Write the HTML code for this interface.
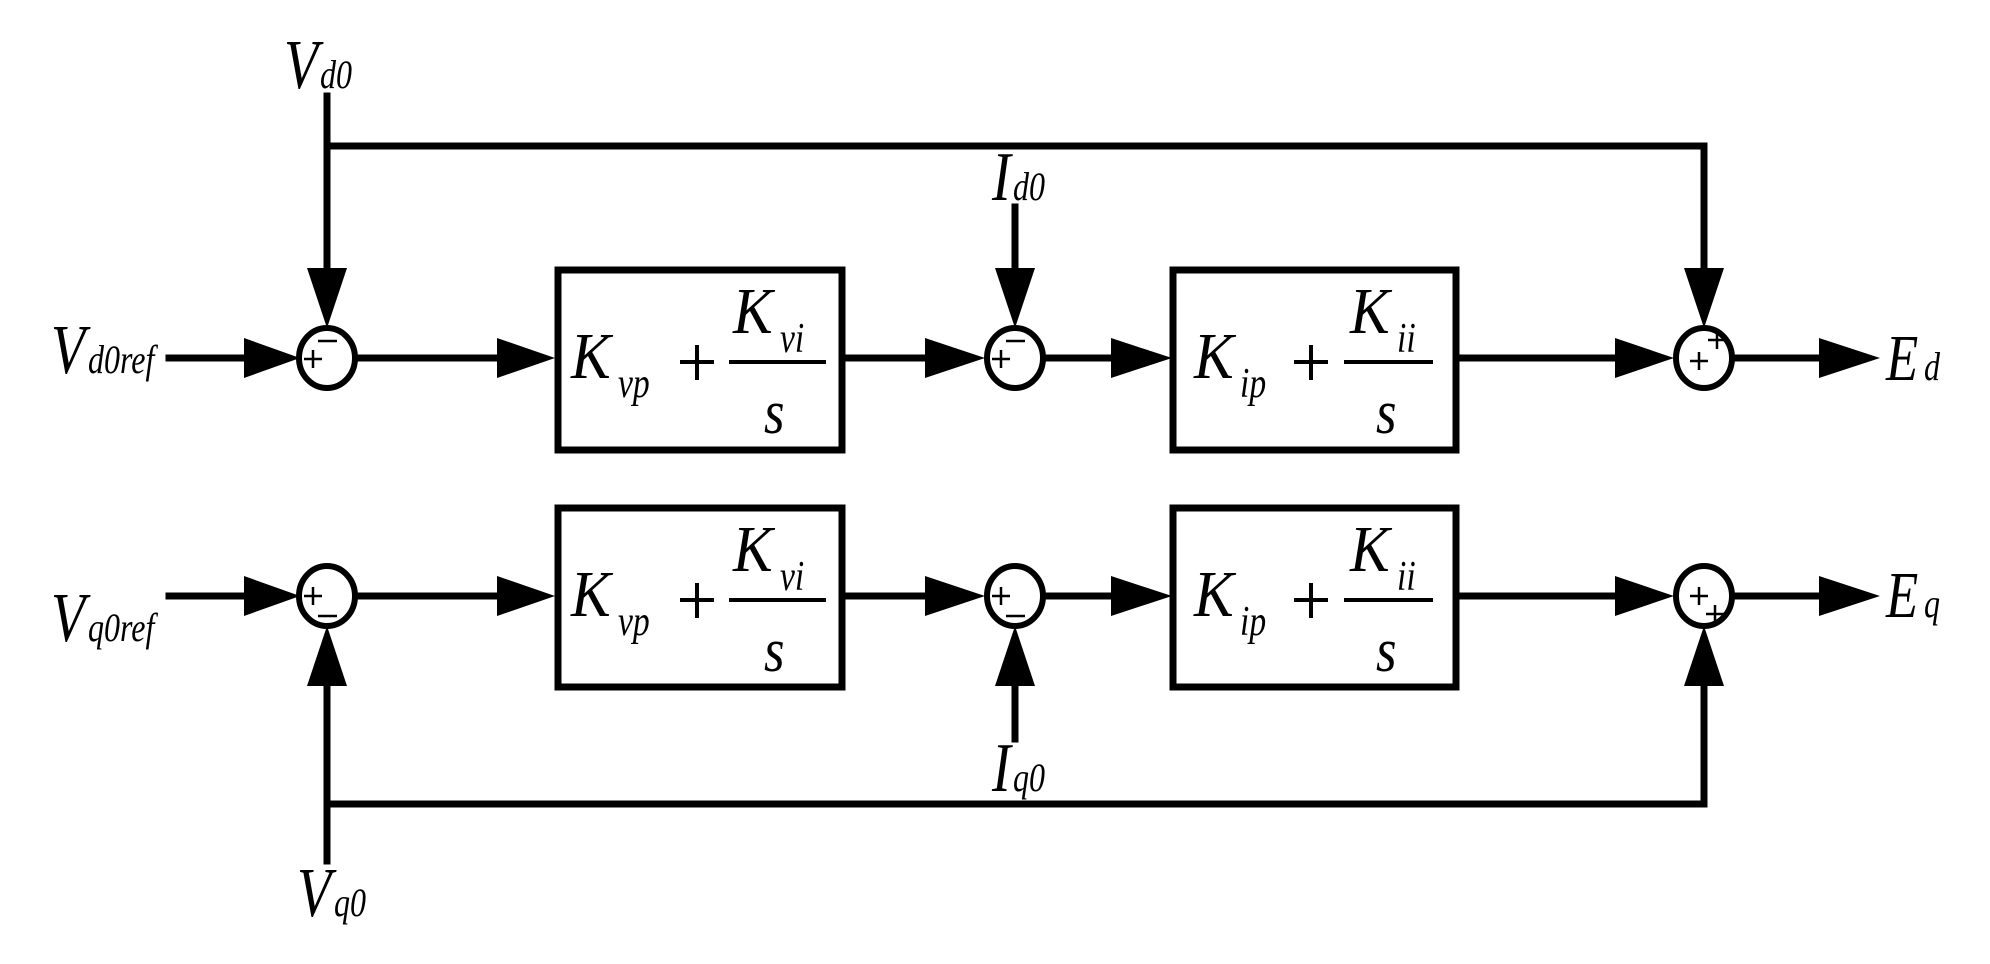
<!DOCTYPE html>
<html><head><meta charset="utf-8"><style>
html,body{margin:0;padding:0;background:#fff;}
svg{display:block;}
</style></head><body>
<svg width="1990" height="964" viewBox="0 0 1990 964" xmlns="http://www.w3.org/2000/svg">
<g stroke="#000" stroke-width="7" fill="none" stroke-linecap="square">
  <polyline points="327,96 327,280"/>
  <polyline points="327,146 1704,146 1704,280"/>
  <line x1="169" y1="358" x2="250" y2="358"/>
  <line x1="357" y1="358" x2="500" y2="358"/>
  <line x1="842" y1="358" x2="930" y2="358"/>
  <line x1="1015" y1="207" x2="1015" y2="280"/>
  <line x1="1045" y1="358" x2="1115" y2="358"/>
  <line x1="1456" y1="358" x2="1620" y2="358"/>
  <line x1="1734" y1="358" x2="1825" y2="358"/>
  <polyline points="327,861 327,680"/>
  <polyline points="327,804 1704,804 1704,680"/>
  <line x1="169" y1="596" x2="250" y2="596"/>
  <line x1="357" y1="596" x2="500" y2="596"/>
  <line x1="842" y1="596" x2="930" y2="596"/>
  <line x1="1015" y1="739" x2="1015" y2="680"/>
  <line x1="1045" y1="596" x2="1115" y2="596"/>
  <line x1="1456" y1="596" x2="1620" y2="596"/>
  <line x1="1734" y1="596" x2="1825" y2="596"/>
  <rect x="558" y="270" width="284" height="180"/>
  <rect x="1173" y="270" width="283" height="180"/>
  <rect x="558" y="508" width="284" height="179"/>
  <rect x="1173" y="508" width="283" height="179"/>
</g>
<g stroke="#000" stroke-width="6" fill="#fff">
  <ellipse cx="327" cy="358" rx="28" ry="30"/>
  <ellipse cx="1015" cy="358" rx="28" ry="30"/>
  <ellipse cx="1704" cy="358" rx="28" ry="30"/>
  <ellipse cx="327" cy="596" rx="28" ry="30"/>
  <ellipse cx="1015" cy="596" rx="28" ry="30"/>
  <ellipse cx="1704" cy="596" rx="28" ry="30"/>
</g>
<g fill="#000">
  <polygon points="244,338 300,358 244,378"/>
  <polygon points="497,338 555,358 497,378"/>
  <polygon points="925,338 985,358 925,378"/>
  <polygon points="1111,338 1172,358 1111,378"/>
  <polygon points="1615,338 1674,358 1615,378"/>
  <polygon points="1819,338 1880,358 1819,378"/>
  <polygon points="244,576 300,596 244,616"/>
  <polygon points="497,576 555,596 497,616"/>
  <polygon points="925,576 985,596 925,616"/>
  <polygon points="1111,576 1172,596 1111,616"/>
  <polygon points="1615,576 1674,596 1615,616"/>
  <polygon points="1819,576 1880,596 1819,616"/>
  <polygon points="307,268 347,268 327,328"/>
  <polygon points="995,268 1035,268 1015,328"/>
  <polygon points="1684,268 1724,268 1704,328"/>
  <polygon points="307,686 347,686 327,626"/>
  <polygon points="995,686 1035,686 1015,626"/>
  <polygon points="1684,686 1724,686 1704,626"/>
</g>
<g stroke="#000" stroke-width="2.5">
  <line x1="304" y1="359" x2="322" y2="359"/><line x1="313" y1="350" x2="313" y2="368"/>
  <line x1="318" y1="341" x2="337" y2="341"/>
  <line x1="992" y1="359" x2="1010" y2="359"/><line x1="1001" y1="350" x2="1001" y2="368"/>
  <line x1="1006" y1="341" x2="1025" y2="341"/>
  <line x1="1690" y1="361" x2="1708" y2="361"/><line x1="1699" y1="352" x2="1699" y2="370"/>
  <line x1="1708" y1="340" x2="1726" y2="340"/><line x1="1717" y1="331" x2="1717" y2="349"/>
  <line x1="304" y1="596" x2="322" y2="596"/><line x1="313" y1="587" x2="313" y2="605"/>
  <line x1="318" y1="616" x2="337" y2="616"/>
  <line x1="992" y1="596" x2="1010" y2="596"/><line x1="1001" y1="587" x2="1001" y2="605"/>
  <line x1="1006" y1="616" x2="1025" y2="616"/>
  <line x1="1690" y1="596" x2="1708" y2="596"/><line x1="1699" y1="587" x2="1699" y2="605"/>
  <line x1="1706" y1="614" x2="1724" y2="614"/><line x1="1715" y1="605" x2="1715" y2="623"/>
</g>
<g stroke="#000" stroke-width="4">
  <line x1="729" y1="362" x2="826" y2="362"/>
  <line x1="1344" y1="362" x2="1433" y2="362"/>
  <line x1="729" y1="600" x2="826" y2="600"/>
  <line x1="1344" y1="600" x2="1433" y2="600"/>
  <line x1="680" y1="362" x2="714" y2="362"/><line x1="697" y1="345" x2="697" y2="380"/>
  <line x1="1294" y1="362" x2="1328" y2="362"/><line x1="1311" y1="345" x2="1311" y2="380"/>
  <line x1="680" y1="600" x2="714" y2="600"/><line x1="697" y1="583" x2="697" y2="618"/>
  <line x1="1294" y1="600" x2="1328" y2="600"/><line x1="1311" y1="583" x2="1311" y2="618"/>
</g>
<g font-family="'Liberation Serif', 'DejaVu Serif', serif" font-style="italic" fill="#000">
  <text transform="translate(284,88) scale(0.8,1)" font-size="70">V</text>
  <text transform="translate(320,88) scale(0.8,1)" font-size="40">d0</text>
  <text transform="translate(51,373) scale(0.8,1)" font-size="70">V</text>
  <text transform="translate(88,373) scale(0.8,1)" font-size="40">d0ref</text>
  <text transform="translate(51,641) scale(0.8,1)" font-size="70">V</text>
  <text transform="translate(88,641) scale(0.8,1)" font-size="40">q0ref</text>
  <text transform="translate(297,916) scale(0.8,1)" font-size="70">V</text>
  <text transform="translate(334,916) scale(0.8,1)" font-size="40">q0</text>
  <text transform="translate(992,200) scale(0.8,1)" font-size="70">I</text>
  <text transform="translate(1013,200) scale(0.8,1)" font-size="40">d0</text>
  <text transform="translate(992,791) scale(0.8,1)" font-size="70">I</text>
  <text transform="translate(1013,791) scale(0.8,1)" font-size="40">q0</text>
  <text transform="translate(1886,380) scale(0.8,1)" font-size="66">E</text>
  <text transform="translate(1924,380) scale(0.8,1)" font-size="40">d</text>
  <text transform="translate(1886,617) scale(0.8,1)" font-size="66">E</text>
  <text transform="translate(1924,617) scale(0.8,1)" font-size="40">q</text>

  <text transform="translate(571,378) scale(0.9,1)" font-size="66">K</text>
  <text transform="translate(618,397) scale(0.8,1)" font-size="42">vp</text>
  <text transform="translate(733,333) scale(0.9,1)" font-size="66">K</text>
  <text transform="translate(780,352) scale(0.8,1)" font-size="42">vi</text>
  <text transform="translate(764,433) scale(0.85,1)" font-size="62">s</text>

  <text transform="translate(1194,378) scale(0.9,1)" font-size="66">K</text>
  <text transform="translate(1240,397) scale(0.8,1)" font-size="42">ip</text>
  <text transform="translate(1350,333) scale(0.9,1)" font-size="66">K</text>
  <text transform="translate(1397,352) scale(0.8,1)" font-size="42">ii</text>
  <text transform="translate(1376,433) scale(0.85,1)" font-size="62">s</text>

  <text transform="translate(571,616) scale(0.9,1)" font-size="66">K</text>
  <text transform="translate(618,635) scale(0.8,1)" font-size="42">vp</text>
  <text transform="translate(733,571) scale(0.9,1)" font-size="66">K</text>
  <text transform="translate(780,590) scale(0.8,1)" font-size="42">vi</text>
  <text transform="translate(764,671) scale(0.85,1)" font-size="62">s</text>

  <text transform="translate(1194,616) scale(0.9,1)" font-size="66">K</text>
  <text transform="translate(1240,635) scale(0.8,1)" font-size="42">ip</text>
  <text transform="translate(1350,571) scale(0.9,1)" font-size="66">K</text>
  <text transform="translate(1397,590) scale(0.8,1)" font-size="42">ii</text>
  <text transform="translate(1376,671) scale(0.85,1)" font-size="62">s</text>
</g>
</svg>
</body></html>
